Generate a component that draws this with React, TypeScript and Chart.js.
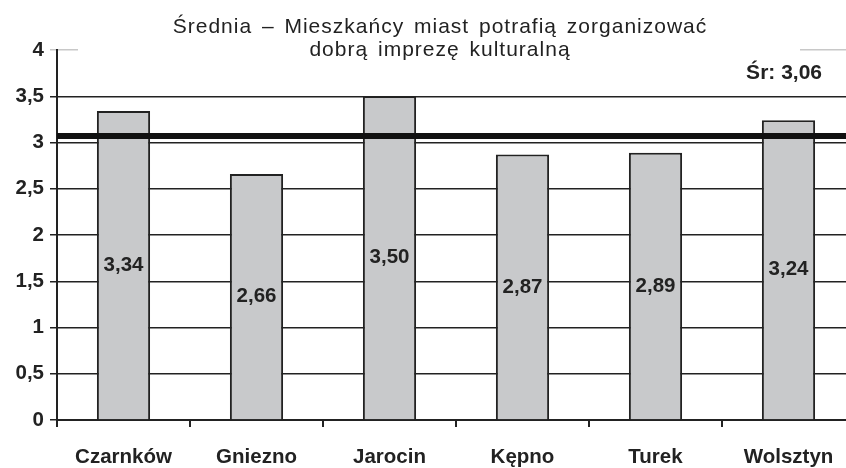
import React, { useEffect, useRef } from "react";
import { Chart, registerables } from "chart.js";

Chart.register(...registerables);

const categories = ["Czarnków", "Gniezno", "Jarocin", "Kępno", "Turek", "Wolsztyn"];
const values = [3.34, 2.66, 3.5, 2.87, 2.89, 3.24];
const average = 3.06;
const titleLines = ["Średnia – Mieszkańcy miast potrafią zorganizować", "dobrą imprezę kulturalną"];
const averageLabel = "Śr: 3,06";

const FONT = "'Liberation Sans', Arial, sans-serif";
const fmt = (v: number, d: number) => v.toFixed(d).replace(".", ",");

export default function App() {
  const ref = useRef<HTMLCanvasElement | null>(null);
  useEffect(() => {
    if (!ref.current) return;
    const overlay = {
      id: "overlay",
      afterDatasetsDraw(chart: any) {
        const ctx = chart.ctx;
        const { left, right } = chart.chartArea;
        const y = chart.scales.y.getPixelForValue(average);
        ctx.save();
        ctx.strokeStyle = "#111";
        ctx.lineWidth = 6;
        ctx.beginPath();
        ctx.moveTo(left, y - 1);
        ctx.lineTo(right, y - 1);
        ctx.stroke();
        const meta = chart.getDatasetMeta(0);
        ctx.fillStyle = "#222";
        ctx.font = `bold 20.5px ${FONT}`;
        ctx.textAlign = "center";
        ctx.textBaseline = "middle";
        meta.data.forEach((el: any, i: number) => {
          ctx.fillText(fmt(values[i], 2), el.x, (el.y + el.base) / 2);
        });
        ctx.restore();
      },
      afterDraw(chart: any) {
        const ctx = chart.ctx;
        ctx.save();
        ctx.fillStyle = "#fff";
        ctx.fillRect(78, 0, 722, 56);
        ctx.fillStyle = "#222";
        ctx.font = `21px ${FONT}`;
        (ctx as any).letterSpacing = "1px";
        (ctx as any).wordSpacing = "3px";
        ctx.textAlign = "center";
        ctx.textBaseline = "alphabetic";
        ctx.fillText(titleLines[0], 440, 33);
        ctx.fillText(titleLines[1], 440, 56);
        (ctx as any).letterSpacing = "0px";
        (ctx as any).wordSpacing = "0px";
        ctx.font = `bold 21px ${FONT}`;
        ctx.textAlign = "right";
        ctx.textBaseline = "middle";
        ctx.fillText(averageLabel, 822, 73);
        ctx.restore();
      },
    };
    const chart = new Chart(ref.current, {
      type: "bar",
      data: {
        labels: categories,
        datasets: [
          {
            data: values,
            backgroundColor: "#c8c9cb",
            borderColor: "#222",
            borderWidth: 2,
            barPercentage: 0.4,
            categoryPercentage: 1,
          },
        ],
      },
      options: {
        responsive: false,
        animation: false,
        devicePixelRatio: 1,
        layout: { padding: { top: 50, right: 5, left: 0, bottom: 0 } },
        plugins: { legend: { display: false }, title: { display: false }, tooltip: { enabled: false } },
        scales: {
          x: {
            afterFit: (s: any) => { s.height = 48; },
            grid: { offset: true, drawOnChartArea: false, drawTicks: true, tickLength: 7, color: "#222", lineWidth: 2 },
            border: { color: "#222", width: 2 },
            ticks: { color: "#222", font: { family: FONT, size: 20.5, weight: "bold" }, padding: 18 },
          },
          y: {
            min: 0,
            max: 4,
            afterFit: (s: any) => { s.width = 57; },
            grid: {
              color: (c: any) => (c.tick && c.tick.value === 4 ? "#c8c8c8" : "#222"),
              lineWidth: 1.5,
              tickLength: 7,
            },
            border: { color: "#222", width: 2 },
            ticks: {
              stepSize: 0.5,
              color: "#222",
              padding: 6,
              font: { family: FONT, size: 20.5, weight: "bold" },
              callback: (v: any) => String(v).replace(".", ","),
            },
          },
        },
      },
      plugins: [overlay],
    });
    return () => chart.destroy();
  }, []);
  return (
    <div style={{ position: "fixed", left: 0, top: 0, width: 846, height: 468, overflow: "hidden", background: "#fff" }}>
      <canvas ref={ref} width={860} height={468} style={{ width: 860, height: 468, display: "block" }} />
    </div>
  );
}
